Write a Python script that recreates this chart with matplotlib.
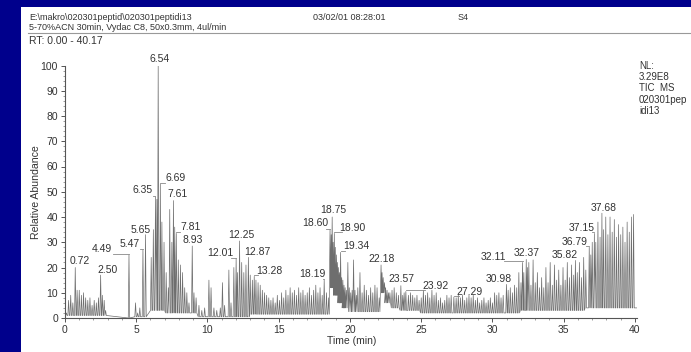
#TIC chromatogram -- peptide run on Vydac C8

import matplotlib.pyplot as plt
from matplotlib.lines import Line2D
from matplotlib.ticker import MultipleLocator

plt.rcParams['font.family'] = ['Liberation Sans', 'DejaVu Sans']

# spike tops (time in min, relative abundance in %)
spike_t = [0.10, 0.25, 0.40, 0.55, 0.72, 0.85, 1.00, 1.15, 1.30, 1.45, 1.60, 1.75, 1.90, 2.05, 2.20, 2.35, 2.50, 2.62, 2.75, 2.85,
           4.49, 4.95, 5.10, 5.25, 5.47, 5.65,
           6.05, 6.20, 6.35, 6.45, 6.54, 6.69, 6.80, 6.95, 7.10, 7.25, 7.35, 7.50, 7.61, 7.70, 7.81, 7.95, 8.10, 8.25, 8.40, 8.55, 8.70, 8.93,
           9.05, 9.20, 9.40, 9.60, 9.80, 10.10, 10.25, 10.45, 10.65, 10.90, 11.05, 11.20, 11.50, 11.65, 11.85, 12.01, 12.10, 12.25, 12.40,
           12.55, 12.70, 12.87, 13.00, 13.15, 13.28, 13.40, 13.55, 13.70, 13.85, 14.00, 14.15, 14.30, 14.45, 14.60, 14.75, 14.90,
           15.05, 15.20, 15.35, 15.50, 15.65, 15.80, 15.95, 16.10, 16.25, 16.40, 16.55, 16.70, 16.85, 17.00, 17.15, 17.30, 17.45,
           17.60, 17.75, 17.90, 18.05, 18.19, 18.35, 18.50, 18.60, 18.68, 18.75, 18.82, 18.90, 18.97, 19.05, 19.12, 19.20, 19.27,
           19.34, 19.42, 19.50, 19.58, 19.66, 19.75, 19.85, 19.95, 20.05, 20.15, 20.25, 20.35, 20.45, 20.55, 20.70, 20.85, 21.00,
           21.15, 21.30, 21.45, 21.60, 21.75, 21.90, 22.05, 22.18, 22.25, 22.33, 22.42, 22.50, 22.60, 22.70, 22.80, 22.95, 23.10,
           23.25, 23.40, 23.57, 23.70, 23.80, 23.92, 24.10, 24.25, 24.40, 24.55, 24.70, 24.85, 25.00, 25.15, 25.30, 25.45, 25.60,
           25.75, 25.90, 26.05, 26.20, 26.35, 26.50, 26.65, 26.80, 26.95, 27.10, 27.29, 27.45, 27.60, 27.75, 27.90, 28.05, 28.20,
           28.35, 28.50, 28.65, 28.80, 28.95, 29.10, 29.25, 29.40, 29.55, 29.70, 29.85, 30.00, 30.15, 30.30, 30.45, 30.60, 30.75,
           30.98, 31.10, 31.25, 31.40, 31.55, 31.70, 31.85, 32.00, 32.11, 32.20, 32.37, 32.45, 32.55, 32.70, 32.85, 33.00, 33.15,
           33.30, 33.45, 33.60, 33.75, 33.90, 34.05, 34.20, 34.35, 34.50, 34.65, 34.80, 34.95, 35.10, 35.25, 35.40, 35.55, 35.70,
           35.82, 35.95, 36.10, 36.25, 36.40, 36.55, 36.79, 36.90, 37.00, 37.15, 37.25, 37.40, 37.55, 37.68, 37.80, 37.95, 38.10,
           38.25, 38.40, 38.55, 38.70, 38.85, 39.00, 39.15, 39.30, 39.45, 39.60, 39.75, 39.90]
spike_h = [2, 7, 9, 6, 20, 11, 11, 9, 10, 8, 7, 8, 5, 7, 6, 8, 17, 9, 7, 3,
           25, 6, 2, 4, 27, 33,
           24, 35, 48, 47, 100, 53, 38, 30, 18, 12, 43, 30, 46.5, 36, 33.5, 23, 21, 18, 12, 10, 6, 28.5,
           10, 8, 5, 3, 4, 15, 12, 4, 3, 4, 14, 5, 19, 6, 20, 23.5, 18, 30.5, 22,
           18, 21, 24, 17, 15, 16.5, 15, 14, 13, 11, 10, 9, 8, 7, 8, 6, 9,
           7, 10, 8, 11, 9, 12, 10, 11, 9, 12, 10, 11, 9, 10, 12, 9, 11,
           13, 10, 12, 9, 15, 10, 8, 35, 33, 40, 30, 33.5, 28, 25, 22, 20, 18,
           26, 16, 15, 13, 12, 11, 22, 12, 10, 11, 23, 11, 9, 12, 18, 10, 13,
           11, 9, 12, 10, 13, 12, 8, 21, 18, 16, 14, 12, 11, 10, 10, 11, 12,
           10, 9, 12.8, 9, 10, 10.5, 9, 10, 9, 8, 9, 7, 8, 11, 9, 10, 8,
           11, 9, 10, 7, 8, 6, 7, 9, 8, 9, 8.3, 8, 9, 8, 9, 7, 8,
           9, 8, 9, 7, 8, 6, 7, 8, 6, 7, 8, 6, 10, 9, 10, 8, 9,
           13.3, 11, 12, 10, 13, 12, 18, 14, 22, 18, 23.2, 20, 22, 13, 23, 14, 18,
           12, 16, 12, 20, 14, 22, 13, 21, 15, 19, 13, 20, 15, 22, 16, 21, 17,
           22.8, 18, 22, 16, 24, 19, 28, 25, 30, 33.5, 30, 38, 32, 41.5, 35, 40, 33,
           40, 34, 39, 32, 37, 33, 36, 30, 38, 34, 40, 41]

# level the trace falls back to between spikes (step table)
floor_from = [0.0, 2.9, 4.9, 5.8, 6.0, 7.0, 9.3, 13.0, 18.55, 18.9, 19.2, 19.5, 19.9,
              22.15, 22.5, 22.9, 23.5, 25.0, 32.0, 36.5]
floor_level = [1.0, 0.0, 0.5, 0.0, 3.0, 2.0, 0.5, 1.5, 12.0, 9.0, 6.0, 4.0, 2.5,
               10.0, 6.0, 4.0, 3.0, 2.0, 3.0, 4.0]

# labelled peaks and where the label sits (label centre, data units)
peak_labels = ['0.72', '2.50', '4.49', '5.47', '5.65', '6.35', '6.54', '6.69', '7.61', '7.81', '8.93',
               '12.01', '12.25', '12.87', '13.28', '18.19', '18.60', '18.75', '18.90', '19.34', '22.18',
               '23.57', '23.92', '27.29', '30.98', '32.11', '32.37', '35.82', '36.79', '37.15', '37.68']
label_pos = [(1.05, 22.5), (3.0, 19.2), (2.62, 27.2), (4.51, 29.4), (5.28, 35.0), (5.44, 50.5), (6.64, 102.4),
             (7.76, 55.3), (7.88, 49.2), (8.81, 36.0), (8.96, 30.9), (10.91, 25.9), (12.36, 33.0), (13.53, 26.3),
             (14.31, 18.6), (17.34, 17.3), (17.58, 37.5), (18.85, 42.6), (20.18, 35.8), (20.43, 28.5), (22.22, 23.2),
             (23.58, 15.3), (25.99, 12.7), (28.4, 10.4), (30.47, 15.6), (30.07, 24.3), (32.39, 25.6), (35.1, 25.0),
             (35.79, 30.0), (36.25, 35.8), (37.8, 43.7)]


def floor_at(t):
    lev = floor_level[0]
    for f, l in zip(floor_from, floor_level):
        if t >= f:
            lev = l
    return lev


# build the sawtooth trace: each spike is a narrow tent on the local floor
xs, ys = [0.0], [0.5]
w = 0.05
for t, h in zip(spike_t, spike_h):
    fl = floor_at(t)
    xs += [t - w, t, t + w]
    ys += [fl, h, fl]
xs.append(40.17)
ys.append(floor_at(40.0))

fig = plt.figure(figsize=(6.91, 3.52), dpi=100)
fig.patch.set_facecolor('#00008c')
fig.add_artist(plt.Rectangle((21 / 691, 0), 1, 1 - 7 / 352, transform=fig.transFigure,
                             facecolor='white', edgecolor='none', zorder=-1))

ax = fig.add_axes([65 / 691, 34 / 352, 572.4 / 691, 252.5 / 352])
ax.set_facecolor('white')
ax.plot(xs, ys, color='#6e6e6e', lw=0.5)
ax.set_xlim(0, 40.17)
ax.set_ylim(0, 100)

for sp in ['top', 'right']:
    ax.spines[sp].set_visible(False)
for sp in ['left', 'bottom']:
    ax.spines[sp].set_color('#555555')
    ax.spines[sp].set_linewidth(0.8)

ax.xaxis.set_major_locator(MultipleLocator(5))
ax.xaxis.set_minor_locator(MultipleLocator(1))
ax.yaxis.set_major_locator(MultipleLocator(10))
ax.yaxis.set_minor_locator(MultipleLocator(2))
ax.tick_params(which='major', length=3, width=0.7, color='#555555', labelsize=7.5, labelcolor='#333333', pad=2)
ax.tick_params(which='minor', length=1.6, width=0.5, color='#777777')

# peak labels with leader lines
for txt, (lx, ly) in zip(peak_labels, label_pos):
    t = float(txt)
    h = spike_h[spike_t.index(t)]
    ax.text(lx, ly, txt, ha='center', va='center', fontsize=7.5, color='#333333', clip_on=False)
    half = 0.75
    if lx + half < t:
        ax.plot([lx + half, t], [h + 0.4, h + 0.4], color='#888888', lw=0.6)
    elif lx - half > t:
        ax.plot([t, lx - half], [h + 0.4, h + 0.4], color='#888888', lw=0.6)

ax.set_xlabel('Time (min)', fontsize=7.5, color='#333333', labelpad=1)
ax.set_ylabel('Relative Abundance', fontsize=7.6, color='#333333', labelpad=0)

# header block
fig.text(29 / 691, 1 - 17 / 352, 'E:\\makro\\020301peptid\\020301peptidi13', fontsize=6.5, color='#333333', va='center')
fig.text(29 / 691, 1 - 27 / 352, '5-70%ACN 30min, Vydac C8, 50x0.3mm, 4ul/min', fontsize=6.5, color='#333333', va='center')
fig.text(313 / 691, 1 - 17 / 352, '03/02/01 08:28:01', fontsize=6.5, color='#333333', va='center')
fig.text(458 / 691, 1 - 17 / 352, 'S4', fontsize=6.5, color='#333333', va='center')
fig.add_artist(Line2D([28 / 691, 1], [1 - 32.5 / 352, 1 - 32.5 / 352], transform=fig.transFigure,
                      color='#999999', lw=0.8))
fig.text(29 / 691, 1 - 41 / 352, 'RT: 0.00 - 40.17', fontsize=7.5, color='#333333', va='center')
fig.text(639 / 691, 1 - 61 / 352, 'NL:\n3.29E8\nTIC  MS\n020301pep\nidi13', fontsize=7, color='#333333',
         va='top', linespacing=1.15)

fig.savefig('out.png', dpi=100, facecolor=fig.get_facecolor())
